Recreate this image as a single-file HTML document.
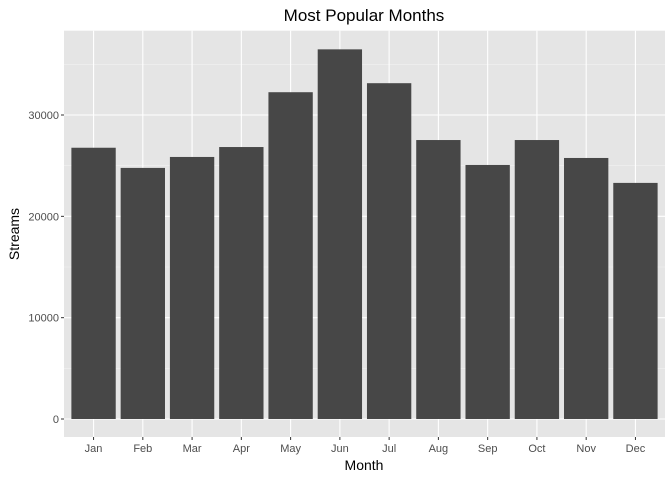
<!DOCTYPE html>
<html><head><meta charset="utf-8"><style>
body{margin:0;background:#fff;font-family:"Liberation Sans",sans-serif}
</style></head><body>
<svg id="chart" width="672" height="480" xmlns="http://www.w3.org/2000/svg">
<text x="364" y="21" text-anchor="middle" font-size="17" fill="#000">Most Popular Months</text>
<rect x="64" y="30.7" width="601" height="406.3" fill="#e5e5e5"/>
<g id="grid"></g><g id="bars"></g><g id="axes"></g>
<text x="364" y="470" text-anchor="middle" font-size="14" fill="#000">Month</text>
<text transform="translate(19,234) rotate(-90)" text-anchor="middle" font-size="14" fill="#000">Streams</text>
</svg>
<script>
const months=["Jan","Feb","Mar","Apr","May","Jun","Jul","Aug","Sep","Oct","Nov","Dec"];
const streams=[26770,24780,25860,26840,32250,36480,33140,27530,25070,27530,25760,23300];
const yTicks=[0,10000,20000,30000];
const NS="http://www.w3.org/2000/svg";
const L=64,R=665,T=30.7,B=437;
const y0=419,pxPer=101.33/10000;
function y(v){return y0-v*pxPer;}
const unit=(R-L)/12.2;
function x(i){return L+(i+0.6)*unit;}
function mk(tag,at,parent){const e=document.createElementNS(NS,tag);for(const k in at)e.setAttribute(k,at[k]);document.getElementById(parent).appendChild(e);return e;}
const grid=document.getElementById('grid');
for(let i=0;i<yTicks.length;i++){
 const minor=yTicks[i]+5000;
 if(y(minor)>T){const g=mk('line',{x1:L,x2:R,y1:y(minor),y2:y(minor),stroke:'#f2f2f2','stroke-width':0.6},'grid');
 }
 const g2=mk('line',{x1:L,x2:R,y1:y(yTicks[i]),y2:y(yTicks[i]),stroke:'#fff','stroke-width':1.1},'grid');
 
 const tk=mk('line',{x1:L-3,x2:L,y1:y(yTicks[i]),y2:y(yTicks[i]),stroke:'#333','stroke-width':1},'axes');
 
 const t=mk('text',{x:L-5,y:y(yTicks[i])+4,'text-anchor':'end','font-size':11,fill:'#4d4d4d'},'axes');
 t.textContent=yTicks[i];
 
}
months.forEach((m,i)=>{
 const g=mk('line',{x1:x(i),x2:x(i),y1:T,y2:B,stroke:'#fff','stroke-width':1.1},'grid');
 
 const w=0.9*unit;
 const b=mk('rect',{x:x(i)-w/2,y:y(streams[i]),width:w,height:y(0)-y(streams[i]),fill:'#474747'},'bars');
 
 const tk=mk('line',{x1:x(i),x2:x(i),y1:B,y2:B+3,stroke:'#333','stroke-width':1},'axes');
 
 const t=mk('text',{x:x(i),y:B+15,'text-anchor':'middle','font-size':11,fill:'#4d4d4d'},'axes');
 t.textContent=m;
 
});
</script>
</body></html>
